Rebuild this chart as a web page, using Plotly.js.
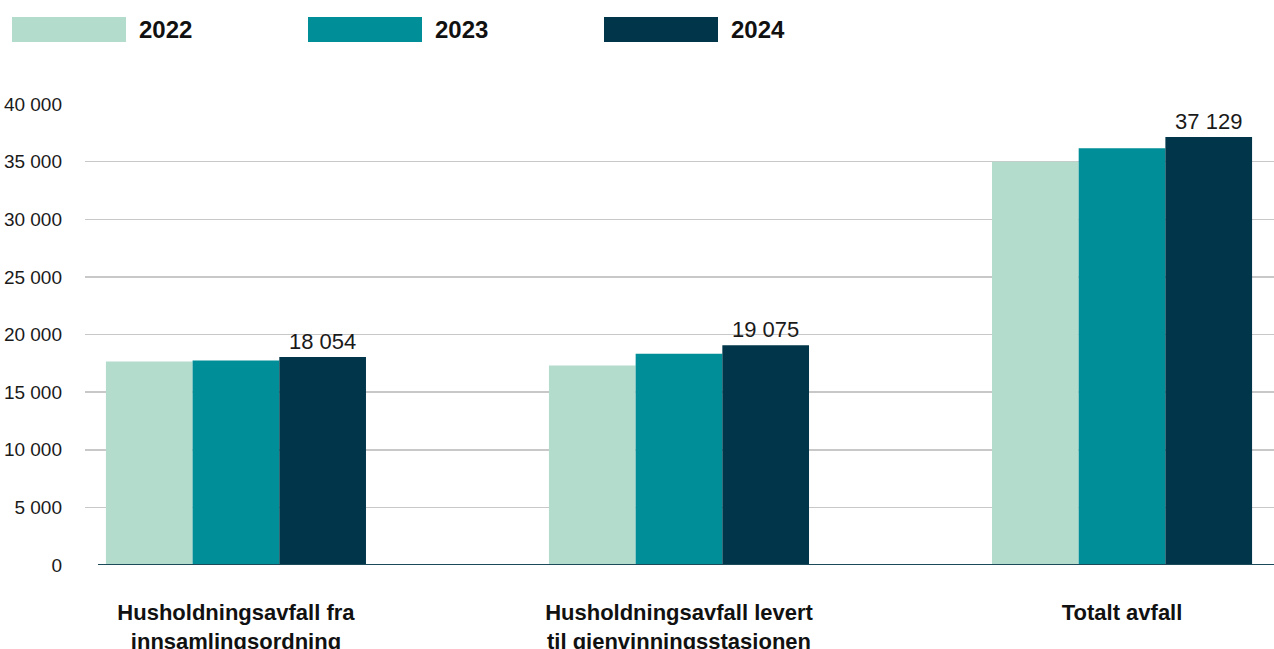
<!DOCTYPE html>
<html>
<head>
<meta charset="utf-8">
<script src="https://cdn.plot.ly/plotly-3.0.1.min.js"></script>
<style>html,body{margin:0;padding:0;background:#fff;}#chart{width:1274px;height:649px;}</style>
</head>
<body>
<div id="chart"></div>
<script>
const categories = [
  'Husholdningsavfall fra<br>innsamlingsordning',
  'Husholdningsavfall levert<br>til gjenvinningsstasjonen',
  'Totalt avfall'
];
const years = ['2022', '2023', '2024'];
const values2022 = [17650, 17300, 35000];
const values2023 = [17740, 18330, 36150];
const values2024 = [18054, 19075, 37129];
const colors = ['#b4dccd', '#008e98', '#01364a'];

const series = [values2022, values2023, values2024];
const FONT = 'Liberation Sans, Arial, Helvetica, sans-serif';

const traces = series.map((vals, i) => {
  const t = {
    type: 'bar',
    name: years[i],
    x: categories,
    y: vals,
    marker: {color: colors[i], line: {width: 0}},
    hoverinfo: 'skip'
  };
  if (i === series.length - 1) {
    t.texttemplate = '%{y:,.0f}';
    t.textposition = 'outside';
    t.constraintext = 'none';
    t.cliponaxis = false;
    t.textfont = {family: FONT, size: 22, color: '#1a1a1a'};
  }
  return t;
});

// plot area geometry (px) for legend placement
const L = 85, R = 1274, T = 104, B = 565;
const W = R - L, H = B - T;
const px2x = p => (p - L) / W;
const py2y = p => (B - p) / H;

const legendX = [12, 308, 604];
const shapes = [];
const annotations = [];
years.forEach((yr, i) => {
  shapes.push({
    type: 'rect', xref: 'paper', yref: 'paper',
    x0: px2x(legendX[i]), x1: px2x(legendX[i] + 114),
    y0: py2y(42), y1: py2y(17),
    fillcolor: colors[i], line: {width: 0}
  });
  annotations.push({
    xref: 'paper', yref: 'paper',
    x: px2x(legendX[i] + 125), y: py2y(30),
    xanchor: 'left', yanchor: 'middle',
    text: '<b>' + yr + '</b>', showarrow: false,
    font: {family: FONT, size: 24, color: '#111'}
  });
});
shapes.push({
  type: 'line', xref: 'paper', yref: 'y',
  x0: px2x(98), x1: 1, y0: 0, y1: 0,
  line: {color: '#1d4a5a', width: 2}
});

const layout = {
  width: 1274, height: 649, autosize: false,
  margin: {l: L, r: 1274 - R, t: T, b: 649 - B, pad: 0},
  paper_bgcolor: '#fff', plot_bgcolor: '#fff',
  separators: ', ',
  showlegend: false,
  barmode: 'group',
  bargap: 0.413, bargroupgap: 0,
  font: {family: FONT, color: '#1a1a1a'},
  xaxis: {
    type: 'category',
    range: [-0.3407, 2.343],
    showgrid: false, zeroline: false, showline: false, ticks: '',
    tickfont: {family: FONT, size: 22, color: '#111', weight: 'bold'},
    ticklabelstandoff: 32,
    fixedrange: true
  },
  yaxis: {
    range: [0, 40000], dtick: 5000, tick0: 0,
    tickformat: ',.0f',
    showgrid: true, gridcolor: '#c8c8c8', gridwidth: 1.5,
    zeroline: false, showline: false, ticks: '',
    tickfont: {family: FONT, size: 19, color: '#1a1a1a'},
    ticklabelstandoff: 22,
    fixedrange: true
  },
  shapes: shapes,
  annotations: annotations
};

Plotly.newPlot('chart', traces, layout, {displayModeBar: false, staticPlot: true});
</script>
</body>
</html>
